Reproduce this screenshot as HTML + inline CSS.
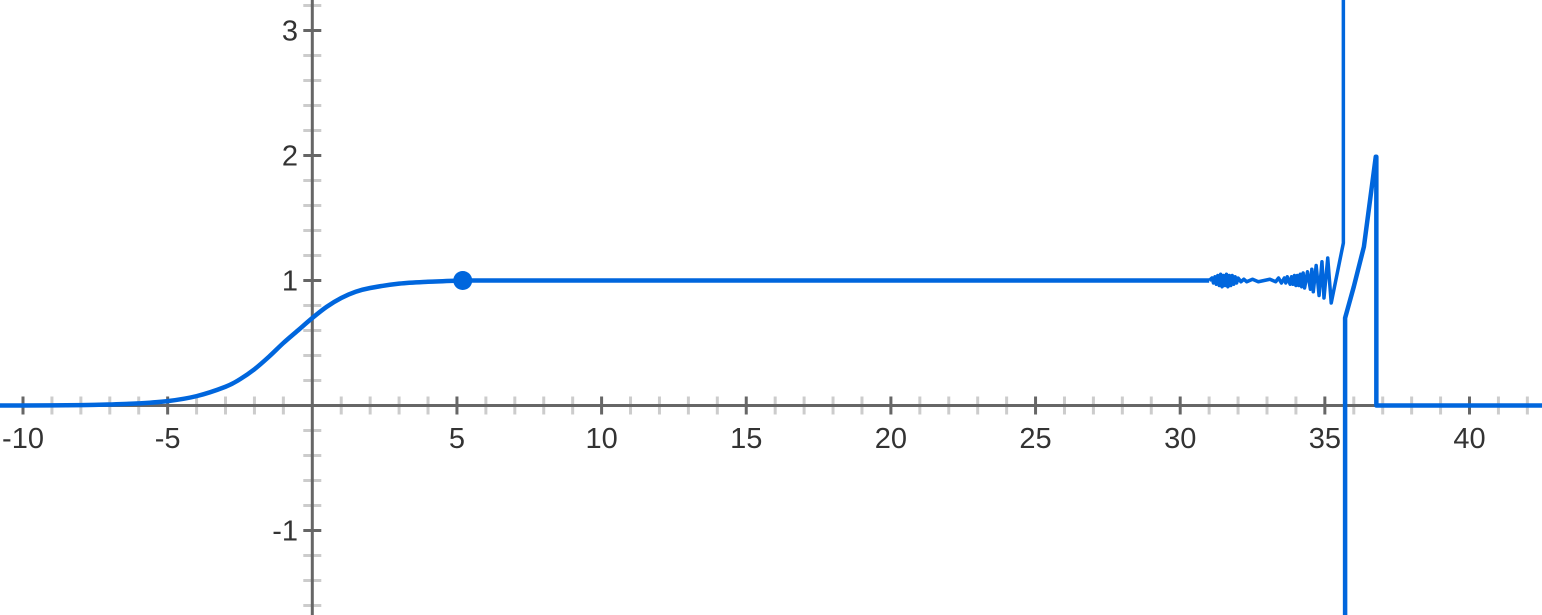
<!DOCTYPE html>
<html><head><meta charset="utf-8"><style>
html,body{margin:0;padding:0;background:#fff;}
svg{display:block;}
text{font-family:"Liberation Sans",sans-serif;font-size:29px;fill:#333;}
</style></head><body>
<svg id="chart" width="1542" height="615"></svg>
<script>
const xTicks=[-10,-5,5,10,15,20,25,30,35,40];
const yTicks=[-1,1,2,3];
const sigX=[-11,-10,-8,-7,-6,-5,-4,-3,-2.5,-2,-1.5,-1,-0.5,0,0.5,1,1.5,2,3,4,5.2];
const sigY=[0,0,0.003,0.008,0.017,0.035,0.075,0.15,0.21,0.29,0.39,0.50,0.60,0.70,0.79,0.86,0.91,0.94,0.975,0.99,1.0];
const flatX=[5.2,31.0];
const flatY=[1,1];
const oscX=[31.0,31.1,31.15,31.2,31.25,31.3,31.35,31.4,31.45,31.5,31.55,31.6,31.65,31.7,31.75,31.8,31.85,31.9,31.95,32.0,32.1,32.2,32.3,32.5,32.7,32.9,33.1,33.3,33.4,33.5,33.6,33.65,33.7,33.8,33.85,33.9,33.95,34.0,34.05,34.1,34.15,34.2,34.25,34.3,34.4,34.5,34.55,34.6,34.7,34.8,34.9,34.97,35.1,35.22,35.64,35.64];
const oscY=[1,1.02,0.98,1.03,0.97,1.04,0.96,1.05,0.95,1.04,0.96,1.05,0.95,1.04,0.96,1.04,0.97,1.03,0.98,1.02,0.99,1.01,0.99,1.01,0.99,1.0,1.01,0.99,1.02,0.98,1.02,0.98,1.03,0.97,1.03,0.97,1.04,0.96,1.04,0.96,1.05,0.95,1.06,0.94,1.07,0.93,1.09,0.91,1.12,0.88,1.15,0.86,1.18,0.82,1.3,3.4];
const brX=[35.70,35.70,36.0,36.35,36.76,36.78,36.78,43];
const brY=[-1.8,0.7,0.95,1.27,1.99,1.99,0,0];
const pointX=5.2, pointY=1;

const NS="http://www.w3.org/2000/svg";
const svg=document.getElementById('chart');
const X0=312.3, XS=28.93, Y0=405.5, YS=125;
const sx=v=>X0+v*XS, sy=v=>Y0-v*YS;
function mk(t,a,p){const e=document.createElementNS(NS,t);for(const k in a)e.setAttribute(k,a[k]);(p||svg).appendChild(e);return e;}

const grid=mk('g',{});


for(let i=-11;i<=43;i++){if(i===0)continue;const major=i%5===0;
 const t=mk('line',{x1:sx(i),x2:sx(i),y1:Y0-9,y2:Y0+9,stroke:major?'#666':'#ccc','stroke-width':3},grid);
 
 }
for(let j=-9;j<=17;j++){if(j===0)continue;const v=j*0.2;const major=j%5===0;
 const t=mk('line',{x1:X0-9,x2:X0+9,y1:sy(v),y2:sy(v),stroke:major?'#666':'#ccc','stroke-width':3},grid);
 
 }
const xa=mk('line',{x1:0,x2:1542,y1:Y0,y2:Y0,stroke:'#666','stroke-width':3},grid);


const ya=mk('line',{x1:X0,x2:X0,y1:0,y2:615,stroke:'#666','stroke-width':3},grid);


xTicks.forEach(v=>{const t=mk('text',{x:sx(v),y:448,'text-anchor':'middle'});t.textContent=v;
 
 });
yTicks.forEach(v=>{const t=mk('text',{x:298,y:sy(v)+10,'text-anchor':'end'});t.textContent=v;
 
 });

function catmull(xs,ys){const P=xs.map((x,i)=>[sx(x),sy(ys[i])]);let d='M'+P[0];
 for(let i=0;i<P.length-1;i++){const p0=P[Math.max(0,i-1)],p1=P[i],p2=P[i+1],p3=P[Math.min(P.length-1,i+2)];
  const c1=[p1[0]+(p2[0]-p0[0])/6,p1[1]+(p2[1]-p0[1])/6],c2=[p2[0]-(p3[0]-p1[0])/6,p2[1]-(p3[1]-p1[1])/6];
  d+=' C'+c1+' '+c2+' '+p2;}return d;}
function poly(xs,ys){return xs.map((x,i)=>(i?'L':'M')+sx(x)+','+sy(ys[i])).join(' ');}
const st={fill:'none',stroke:'#0066dd','stroke-width':4.5,'stroke-linejoin':'round'};
const p1=mk('path',Object.assign({d:catmull(sigX,sigY)},st));


const p2=mk('path',Object.assign({d:poly(flatX,flatY)},st));


const p3=mk('path',Object.assign({d:poly(oscX,oscY)},st,{'stroke-width':3.5}));


const p4=mk('path',Object.assign({d:poly(brX,brY)},st));


const dot=mk('circle',{cx:sx(pointX),cy:sy(pointY),r:9.5,fill:'#0066dd'});


</script>
</body></html>
